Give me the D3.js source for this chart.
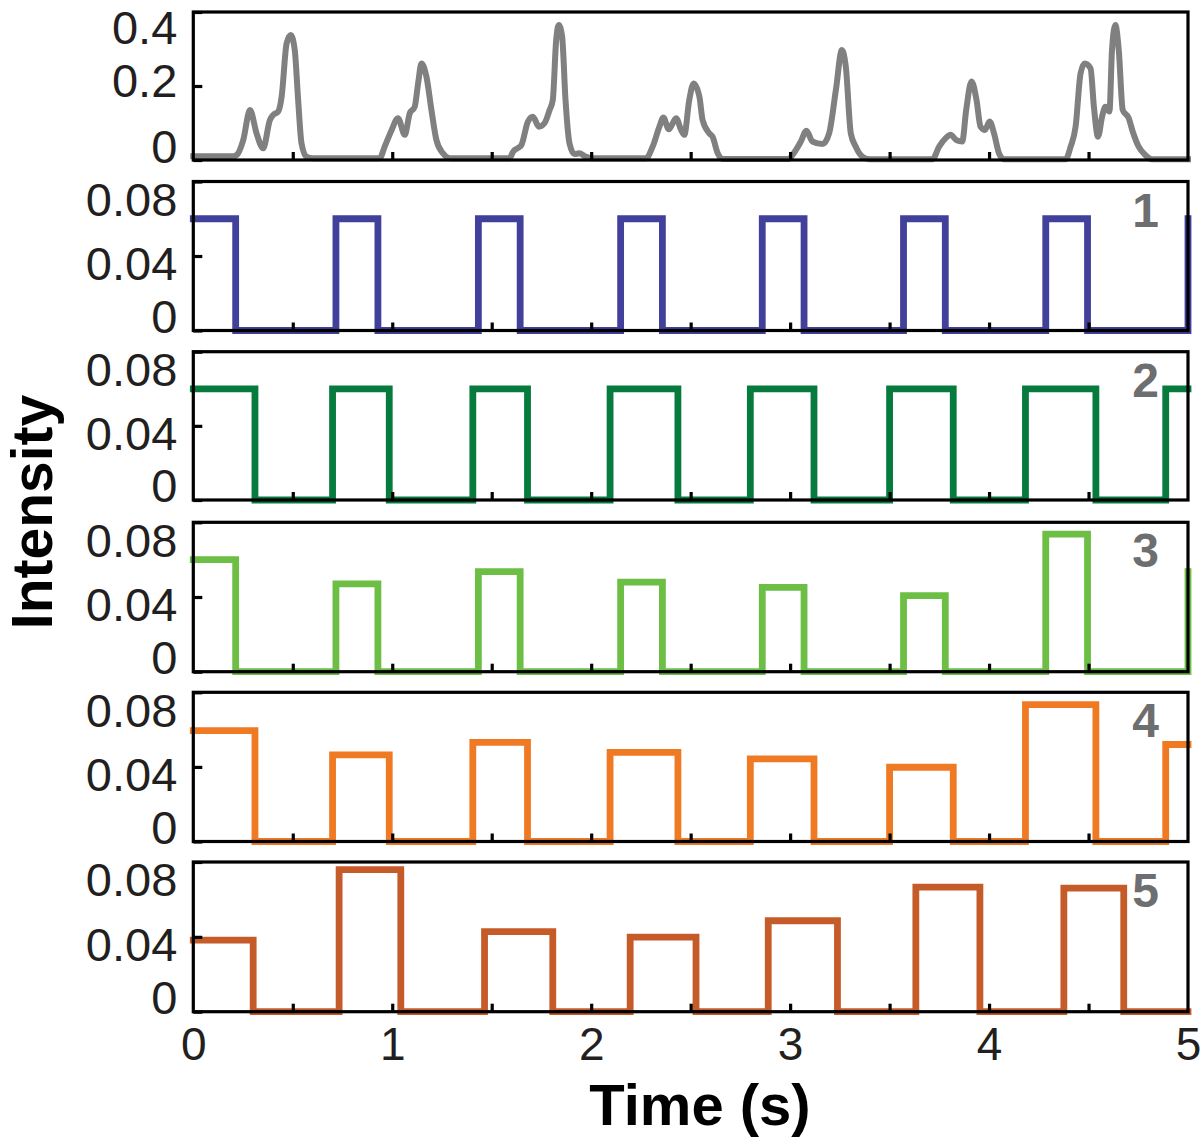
<!DOCTYPE html>
<html>
<head>
<meta charset="utf-8">
<script src="https://cdn.jsdelivr.net/npm/d3@7"></script>
<style>
  body { margin: 0; background: #fff; }
  text { font-family: "Liberation Sans", Arial, sans-serif; }
</style>
</head>
<body>
<div id="chart"></div>
<script>
// x axis
const xTickValues = [0.5, 1, 1.5, 2, 2.5, 3, 3.5, 4, 4.5];
const xLabelValues = [0, 1, 2, 3, 4, 5];

// y ticks
const yTicksTop = [0, 0.2, 0.4];
const yTicksStep = [0, 0.04, 0.08];
const panelNames = ["1", "2", "3", "4", "5"];

// summed signal (top panel)
const grayTime = [0, 0.2, 0.218, 0.251, 0.285, 0.318, 0.351, 0.385, 0.402, 0.427, 0.444, 0.469, 0.49, 0.51, 0.527, 0.544, 0.569, 0.6,
  0.937, 0.962, 0.996, 1.029, 1.063, 1.088, 1.113, 1.13, 1.147, 1.172, 1.197, 1.222, 1.255, 1.289,
  1.59, 1.607, 1.649, 1.682, 1.707, 1.737, 1.766, 1.791, 1.807, 1.824, 1.837, 1.854, 1.871, 1.891, 1.916, 1.941, 1.966, 2.0,
  2.276, 2.309, 2.343, 2.363, 2.39, 2.427, 2.452, 2.468, 2.493, 2.515, 2.544, 2.56, 2.594, 2.61, 2.636, 2.66,
  2.995, 3.012, 3.054, 3.082, 3.112, 3.163, 3.196, 3.23, 3.26, 3.28, 3.305, 3.33, 3.363, 3.397,
  3.715, 3.749, 3.782, 3.807, 3.835, 3.865, 3.885, 3.912, 3.937, 3.957, 3.979, 4.003, 4.025, 4.05, 4.075,
  4.385, 4.41, 4.435, 4.46, 4.481, 4.51, 4.527, 4.548, 4.568, 4.585, 4.605, 4.618, 4.635, 4.652, 4.672, 4.702, 4.722, 4.752, 4.785, 4.819, 5.0];
const grayValue = [0.01, 0.01, 0.0135, 0.054, 0.135, 0.072, 0.0315, 0.108, 0.122, 0.131, 0.171, 0.315, 0.338, 0.297, 0.162, 0.045, 0.009, 0.005,
  0.005, 0.036, 0.08, 0.113, 0.068, 0.126, 0.144, 0.207, 0.261, 0.225, 0.135, 0.054, 0.018, 0.005,
  0.005, 0.022, 0.04, 0.104, 0.117, 0.09, 0.1, 0.135, 0.162, 0.324, 0.365, 0.333, 0.162, 0.045, 0.016, 0.018, 0.011, 0.005,
  0.005, 0.036, 0.09, 0.115, 0.083, 0.113, 0.081, 0.068, 0.162, 0.207, 0.171, 0.108, 0.072, 0.063, 0.018, 0.003,
  0.003, 0.0135, 0.05, 0.079, 0.05, 0.043, 0.072, 0.189, 0.297, 0.252, 0.072, 0.036, 0.009, 0.002,
  0.002, 0.036, 0.059, 0.068, 0.054, 0.05, 0.135, 0.212, 0.162, 0.09, 0.081, 0.104, 0.072, 0.018, 0.002,
  0.002, 0.036, 0.09, 0.234, 0.261, 0.248, 0.144, 0.063, 0.117, 0.144, 0.131, 0.297, 0.365, 0.297, 0.135, 0.113, 0.077, 0.036, 0.0135, 0.002, 0.002];

// step series: change times and the level that starts at each time
const s1Time = [0, 0.213, 0.717, 0.928, 1.433, 1.643, 2.148, 2.358, 2.86, 3.07, 3.57, 3.78, 4.285, 4.495, 5.0];
const s1Level = [0.06, 0, 0.06, 0, 0.06, 0, 0.06, 0, 0.06, 0, 0.06, 0, 0.06, 0, 0.06];

const s2Time = [0, 0.31, 0.7, 0.985, 1.405, 1.68, 2.095, 2.436, 2.8, 3.12, 3.5, 3.82, 4.183, 4.537, 4.888, 5.0];
const s2Level = [0.06, 0, 0.06, 0, 0.06, 0, 0.06, 0, 0.06, 0, 0.06, 0, 0.06, 0, 0.06, 0.06];

const s3Time = [0, 0.213, 0.717, 0.928, 1.433, 1.643, 2.148, 2.358, 2.86, 3.07, 3.57, 3.78, 4.285, 4.495, 5.0];
const s3Level = [0.06, 0, 0.047, 0, 0.0536, 0, 0.048, 0, 0.0452, 0, 0.0407, 0, 0.0737, 0, 0.0536];

const s4Time = [0, 0.31, 0.7, 0.985, 1.405, 1.68, 2.095, 2.436, 2.8, 3.12, 3.5, 3.82, 4.183, 4.537, 4.888, 5.0];
const s4Level = [0.0595, 0, 0.0464, 0, 0.0532, 0, 0.0478, 0, 0.0443, 0, 0.0398, 0, 0.0734, 0, 0.052, 0.052];

const s5Time = [0, 0.301, 0.733, 1.043, 1.464, 1.807, 2.196, 2.527, 2.89, 3.238, 3.632, 3.954, 4.376, 4.677, 5.0];
const s5Level = [0.0383, 0, 0.0759, 0, 0.0428, 0, 0.0398, 0, 0.0486, 0, 0.0666, 0, 0.066, 0, 0];

const stepColors = ["#41409a", "#077a3e", "#6cbe45", "#f07a24", "#c65b2a"];

const svg = d3.select("#chart")
  .append("svg")
  .attr("width", 1200)
  .attr("height", 1138);

// panel frames (pixel layout)
const tops = [12, 181.5, 351.7, 522.3, 692.3, 862];
const bottoms = [160, 330.5, 500, 671.7, 841.5, 1011.7];

// label baseline offsets from the tick position: [0, mid, max]
const labelShiftTop = [2, 10.2, 31];
const labelShiftStep = [1.5, 23.8, 33.7];

const x = d3.scaleLinear().domain([0, 5]).range([193.3, 1188]);

function drawPanel(i, yMax, yTicks, shifts, pts, color, curve, width) {
  const y = d3.scaleLinear().domain([0, yMax]).range([bottoms[i], tops[i]]);
  const g = svg.append("g");

  const line = d3.line()
    .x(d => x(d[0]))
    .y(d => y(d[1]))
    .curve(curve);

  g.append("path")
    .datum(pts)
    .attr("d", line)
    .attr("fill", "none")
    .attr("stroke", color)
    .attr("stroke-width", width)
    .attr("stroke-linejoin", curve === d3.curveStepAfter ? "miter" : "round")
    .attr("stroke-linecap", "square");

  // frame
  g.append("rect")
    .attr("x", x(0))
    .attr("y", tops[i])
    .attr("width", x(5) - x(0))
    .attr("height", bottoms[i] - tops[i])
    .attr("fill", "none")
    .attr("stroke", "#000")
    .attr("stroke-width", 3.2);

  // bottom inward ticks
  const xa = g.append("g")
    .attr("transform", `translate(0,${bottoms[i]})`)
    .call(d3.axisBottom(x).tickValues(xTickValues).tickSizeInner(-8).tickSizeOuter(0).tickFormat(""));
  xa.select(".domain").remove();
  xa.selectAll("line").attr("stroke", "#000").attr("stroke-width", 3.2);

  // left axis: inward tick + labels
  const ya = g.append("g")
    .attr("transform", `translate(${x(0)},0)`)
    .call(d3.axisLeft(y).tickValues(yTicks).tickSizeInner(-9).tickSizeOuter(0).tickPadding(16)
      .tickFormat(d => d === 0 ? "0" : String(d)));
  ya.select(".domain").remove();
  ya.selectAll("line").attr("stroke", "#000").attr("stroke-width", 3.2);
  ya.selectAll("text")
    .attr("dy", 0)
    .attr("y", (d, k) => shifts[k])
    .attr("fill", "#231f20")
    .style("font-size", "47px");

  return y;
}

// top panel: summed intensity
drawPanel(0, 0.4, yTicksTop, labelShiftTop,
  grayTime.map((t, k) => [t, grayValue[k]]), "#808080", d3.curveMonotoneX, 6);

// step panels
const stepSeries = [[s1Time, s1Level], [s2Time, s2Level], [s3Time, s3Level], [s4Time, s4Level], [s5Time, s5Level]];
stepSeries.forEach((s, k) => {
  drawPanel(k + 1, 0.08, yTicksStep, labelShiftStep,
    s[0].map((t, j) => [t, s[1][j]]), stepColors[k], d3.curveStepAfter, 6.8);
  svg.append("text")
    .attr("x", 1159)
    .attr("y", tops[k + 1] + 45)
    .attr("text-anchor", "end")
    .attr("fill", "#6d6e70")
    .style("font-size", "48px")
    .style("font-weight", "bold")
    .text(panelNames[k]);
});

// x labels under the last panel
const xl = svg.append("g")
  .attr("transform", `translate(0,${bottoms[5]})`)
  .call(d3.axisBottom(x).tickValues(xLabelValues).tickSize(0).tickPadding(16).tickFormat(d3.format("d")));
xl.select(".domain").remove();
xl.selectAll("text").attr("fill", "#231f20").style("font-size", "46px");

// axis titles
svg.append("text")
  .attr("x", 700)
  .attr("y", 1125)
  .attr("text-anchor", "middle")
  .style("font-size", "58px")
  .style("font-weight", "bold")
  .text("Time (s)");

svg.append("text")
  .attr("transform", "translate(52,512) rotate(-90)")
  .attr("text-anchor", "middle")
  .style("font-size", "57px")
  .style("font-weight", "bold")
  .text("Intensity");
</script>
</body>
</html>
